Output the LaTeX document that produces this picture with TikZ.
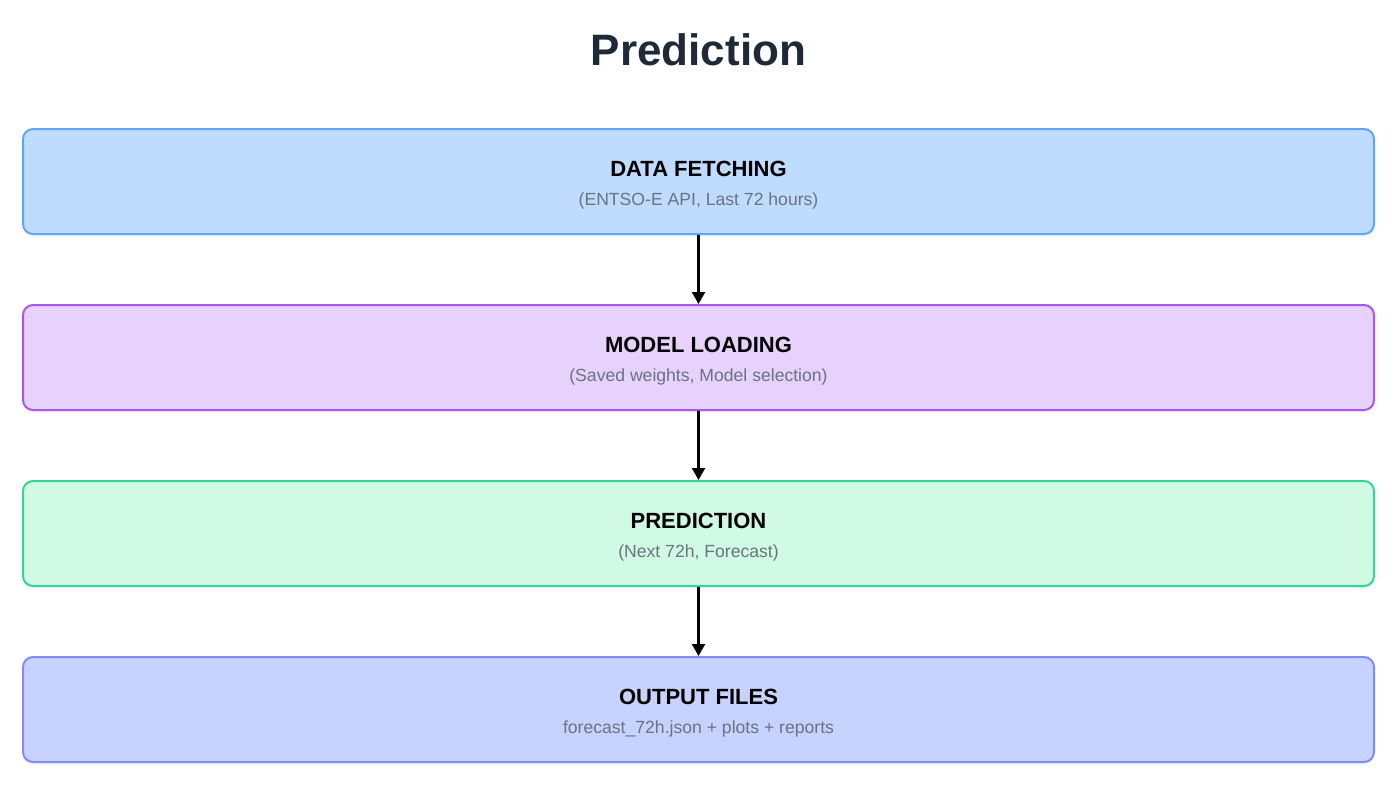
\documentclass[tikz,border=0pt]{standalone}
\usepackage{fontspec}
\setmainfont{Liberation Sans}
\definecolor{titlegray}{HTML}{1F2937}
\definecolor{subgray}{HTML}{6B7280}
\definecolor{fetchfill}{HTML}{BFDBFE}
\definecolor{fetchdraw}{HTML}{60A5FA}
\definecolor{loadfill}{HTML}{E6D2FC}
\definecolor{loaddraw}{HTML}{A855F7}
\definecolor{predfill}{HTML}{D1FAE5}
\definecolor{preddraw}{HTML}{34D399}
\definecolor{outfill}{HTML}{C7D2FE}
\definecolor{outdraw}{HTML}{818CF8}
\usetikzlibrary{arrows.meta,positioning,shadows}
\tikzset{
  stage/.style={draw=#1draw,fill=#1fill,line width=2pt,rounded corners=10pt,
    minimum width=1351pt,minimum height=105pt,align=center,
    font=\fontsize{22}{26}\selectfont\bfseries,
    drop shadow={opacity=0.08,shadow xshift=0pt,shadow yshift=-3pt}},
  flow/.style={-{Triangle[width=13pt,length=12pt]},line width=2.5pt,black},
}
\newcommand{\subline}[1]{\\[3pt]{\fontsize{17.6}{20}\selectfont\mdseries\color{subgray}#1}}
\begin{document}
\begin{tikzpicture}[x=1pt,y=-1pt]
  \useasboundingbox (0,0) rectangle (1400,790);
  \node[font=\fontsize{44}{52}\selectfont\bfseries,text=titlegray] (title) at (698.5,50) {Prediction};
  \node[stage=fetch] (fetch) at (698.5,181.5) {\rule{0pt}{22pt}DATA FETCHING\subline{(ENTSO-E API, Last 72 hours)}};
  \node[stage=load] (load) at (698.5,357.5) {\rule{0pt}{22pt}MODEL LOADING\subline{(Saved weights, Model selection)}};
  \node[stage=pred] (pred) at (698.5,533.5) {\rule{0pt}{22pt}PREDICTION\subline{(Next 72h, Forecast)}};
  \node[stage=out] (out) at (698.5,709.5) {\rule{0pt}{22pt}OUTPUT FILES\subline{forecast\_72h.json + plots + reports}};
  \draw[flow] (fetch) -- (load);
  \draw[flow] (load) -- (pred);
  \draw[flow] (pred) -- (out);
\end{tikzpicture}
\end{document}
